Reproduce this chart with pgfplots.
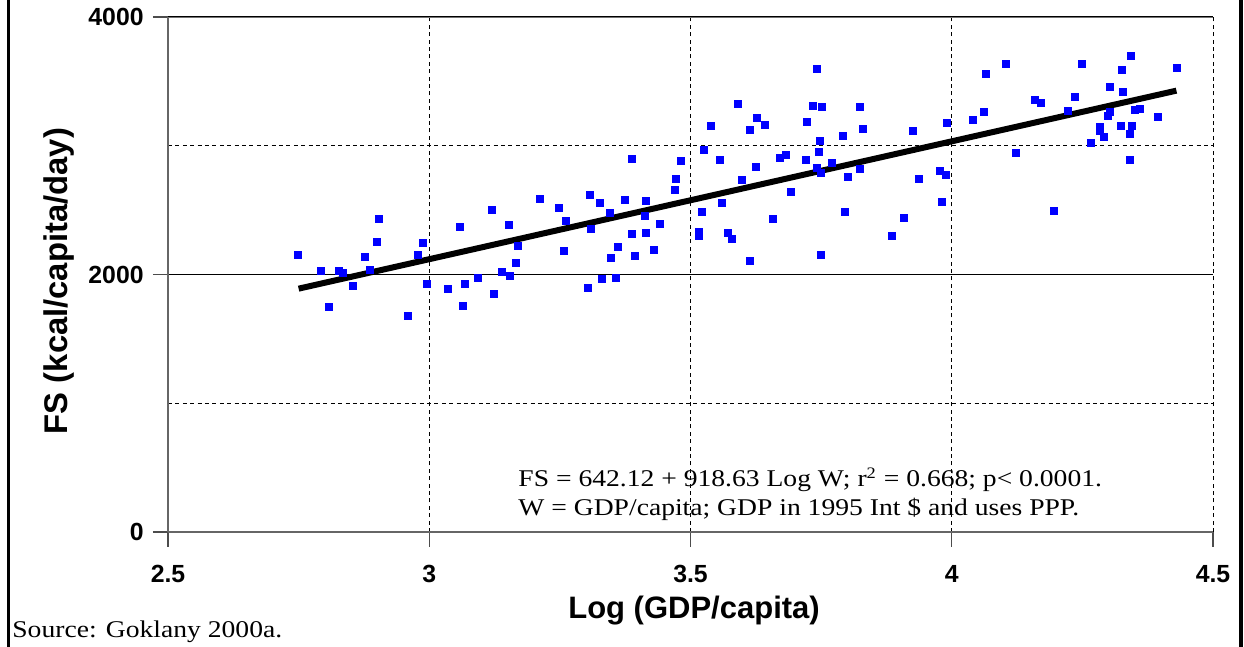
\documentclass[border=0pt]{standalone}
\usepackage{fontspec}
\setmainfont{Liberation Sans}
\newfontfamily\timesx[FakeStretch=1.15]{Liberation Serif}
\usepackage{pgfplots}
\pgfplotsset{compat=1.18}
\begin{document}
\begin{tikzpicture}
\path[use as bounding box] (0,0) rectangle (622pt,323.5pt);
\begin{axis}[
  at={(84pt,57.5pt)}, anchor=south west,
  scale only axis, width=522.5pt, height=257.5pt,
  xmin=2.5, xmax=4.5, ymin=0, ymax=4000,
  axis x line*=bottom, axis y line*=left,
  axis line style={-, black!60, line width=0.8pt},
  xtick={2.5,3,3.5,4,4.5}, ytick={0,2000,4000}, minor ytick={1000,3000},
  tick align=outside, major tick length=7.5pt, minor tick length=0pt,
  tick style={black!70, line width=0.6pt},
  grid=both,
  x grid style={black, line width=0.5pt, dash pattern=on 2pt off 1.7pt},
  major y grid style={black, solid, line width=0.6pt},
  minor y grid style={black, line width=0.5pt, dash pattern=on 2pt off 1.7pt},
  /pgf/number format/assume math mode=true,
  /pgf/number format/1000 sep={},
  ticklabel style={font=\bfseries\fontsize{12.4}{14}\selectfont},
  yticklabel style={anchor=east, inner sep=0pt, xshift=-4.5pt},
  xticklabel style={anchor=north, inner sep=0pt, yshift=-9pt},
  xlabel={Log (GDP/capita)},
  xlabel style={at={(axis description cs:0.5034,-0.167)}, anchor=base, font=\bfseries\fontsize{15.5}{18}\selectfont},
  ylabel={FS (kcal/capita/day)},
  ylabel style={at={(axis description cs:-0.1045,0.4874)}, anchor=center, font=\bfseries\fontsize{16.4}{19}\selectfont},
]
\addplot[only marks, mark=square*, mark size=1.75pt, color=blue, mark options={fill=blue, draw=none}] coordinates {
(2.749,2149) (2.793,2027) (2.807,1750) (2.828,2027) (2.834,2009) (2.853,1913)
(2.876,2134) (2.887,2039) (2.899,2250) (2.904,2433) (2.960,1676) (2.979,2151)
(2.987,2247) (2.996,1929) (3.035,1885) (3.058,2367) (3.065,1755) (3.069,1929)
(3.094,1973) (3.119,2503) (3.123,1846) (3.140,2017) (3.153,2387) (3.155,1991)
(3.165,2091) (3.170,2224) (3.211,2589) (3.249,2514) (3.257,2180) (3.262,2413)
(3.304,1897) (3.308,2620) (3.310,2356) (3.327,2554) (3.331,1963) (3.345,2478)
(3.348,2126) (3.358,1975) (3.362,2216) (3.375,2581) (3.387,2895) (3.387,2312)
(3.394,2141) (3.412,2457) (3.415,2573) (3.415,2320) (3.429,2193) (3.442,2395)
(3.471,2654) (3.473,2743) (3.482,2884) (3.517,2332) (3.517,2297) (3.521,2483)
(3.526,2969) (3.540,3156) (3.557,2887) (3.561,2558) (3.572,2322) (3.580,2278)
(3.590,3327) (3.599,2732) (3.613,2107) (3.614,3125) (3.626,2837) (3.628,3213)
(3.643,3164) (3.658,2433) (3.672,2903) (3.683,2926) (3.693,2643) (3.720,2892)
(3.722,3187) (3.735,3306) (3.741,3594) (3.741,2830) (3.745,2954) (3.748,3039)
(3.750,2791) (3.750,2154) (3.752,3299) (3.771,2868) (3.792,3073) (3.796,2488)
(3.802,2760) (3.825,3299) (3.825,2822) (3.829,3132) (3.886,2297) (3.909,2441)
(3.926,3112) (3.938,2744) (3.978,2806) (3.982,2561) (3.988,2770) (3.990,3179)
(4.041,3202) (4.062,3264) (4.066,3555) (4.103,3637) (4.122,2941) (4.160,3355)
(4.170,3334) (4.196,2496) (4.223,3272) (4.235,3376) (4.250,3637) (4.267,3024)
(4.284,3146) (4.284,3117) (4.292,3066) (4.298,3229) (4.303,3454) (4.303,3260)
(4.323,3156) (4.325,3586) (4.328,3420) (4.340,3089) (4.340,2887) (4.342,3699)
(4.344,3156) (4.351,3275) (4.361,3288) (4.395,3221) (4.430,3602)
};
\addplot[black, line width=3pt] coordinates {(2.75,1890) (4.43,3428)};
\draw[black!55, line width=1pt] (rel axis cs:0,1) -- (rel axis cs:1,1);
\node[anchor=base west, inner sep=0pt, font=\timesx\fontsize{12}{14}\selectfont] at (axis cs:3.170,350) {FS = 642.12 + 918.63 Log W; r\textsuperscript{2} = 0.668; p< 0.0001.};
\node[anchor=base west, inner sep=0pt, font=\timesx\fontsize{12}{14}\selectfont] at (axis cs:3.170,132) {W = GDP/capita; GDP in 1995 Int \$ and uses PPP.};
\end{axis}
\draw[line width=1.5pt] (4.25pt,0) -- (4.25pt,323.5pt);
\draw[line width=2pt] (620.5pt,0) -- (620.5pt,323.5pt);
\node[anchor=base west, inner sep=0pt, font=\timesx\fontsize{12}{14}\selectfont] at (6pt,4.5pt) {Source: Goklany 2000a.};
\end{tikzpicture}
\end{document}
